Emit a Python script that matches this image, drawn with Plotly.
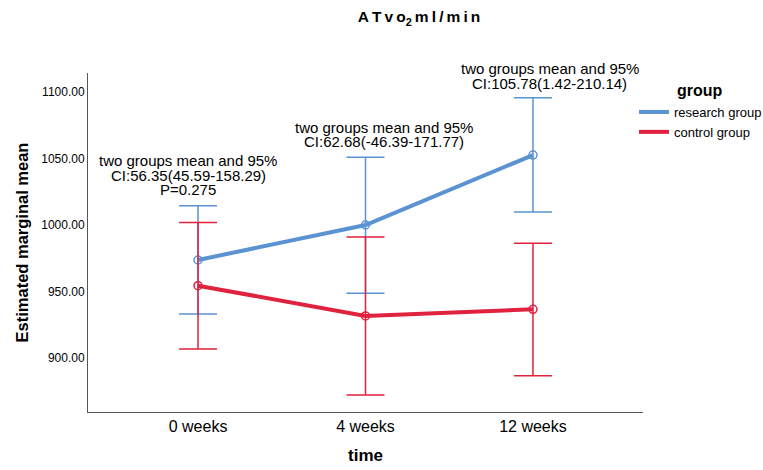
import plotly.graph_objects as go

times = ["0 weeks", "4 weeks", "12 weeks"]
research_mean = [973.7, 1000.0, 1052.6]
research_upper = [1014.5, 1050.9, 1095.7]
research_lower = [933.1, 948.6, 1009.8]
control_mean = [954.4, 931.6, 936.6]
control_upper = [1001.8, 991.0, 986.2]
control_lower = [906.8, 872.2, 886.7]

note_lines = [
    ["two groups mean and 95%", "CI:56.35(45.59-158.29)", "P=0.275"],
    ["two groups mean and 95%", "CI:62.68(-46.39-171.77)"],
    ["two groups mean and 95%", "CI:105.78(1.42-210.14)"],
]
note_anchor_y = [1048.5, 1073.5, 1110.0]   # data value anchors
note_xshift = [-10, 18, 17]                # px
note_yshift = [0, 0, 10]                   # px
LINE_GAP = 14.5

BLUE = "#5A92D2"
RED = "#E0223F"
FONT = "Liberation Sans, Arial, sans-serif"

fig = go.Figure()

def add_group(name, mean, upper, lower, color):
    xs = list(range(len(times)))
    fig.add_trace(go.Scatter(
        x=xs, y=mean, mode="markers", showlegend=False, hoverinfo="skip",
        marker=dict(symbol="circle-open", size=8, color=color, line=dict(width=1.5)),
        error_y=dict(type="data", symmetric=False,
                     array=[u - m for u, m in zip(upper, mean)],
                     arrayminus=[m - l for m, l in zip(mean, lower)],
                     color=color, thickness=1.5, width=19),
    ))
    fig.add_trace(go.Scatter(
        x=xs, y=mean, mode="lines", name=name,
        line=dict(color=color, width=4),
    ))

add_group("research group", research_mean, research_upper, research_lower, BLUE)
add_group("control group", control_mean, control_upper, control_lower, RED)

for i, lines in enumerate(note_lines):
    for k, t in enumerate(lines):
        fig.add_annotation(x=i, y=note_anchor_y[i], text=t, showarrow=False,
                           xanchor="center", yanchor="middle",
                           xshift=note_xshift[i], yshift=note_yshift[i] - k * LINE_GAP,
                           font=dict(size=15, color="black", family=FONT))

# legend title
fig.add_annotation(xref="paper", yref="paper", x=(700 - 88) / 555, y=(412 - 90) / 339,
                   text="<b>group</b>", showarrow=False, xanchor="center", yanchor="middle",
                   font=dict(size=16, color="black", family=FONT))

title_txt = "\u2009".join(list("ATvo")) + "<sub>2</sub>\u2009" + "\u2009".join(list("ml/min"))

fig.update_layout(
    width=763, height=470,
    margin=dict(l=88, r=120, t=73, b=58, autoexpand=False),
    paper_bgcolor="white", plot_bgcolor="white",
    font=dict(family=FONT, color="black"),
    title=dict(text="<b>" + title_txt + "</b>", x=419 / 763, xanchor="center",
               y=1 - 17 / 470, yanchor="middle", font=dict(size=15.5)),
    showlegend=True,
    legend=dict(xref="container", yref="container",
                x=634 / 763, xanchor="left", y=1 - 97 / 470, yanchor="top",
                font=dict(size=13), tracegroupgap=0, itemwidth=30,
                bgcolor="rgba(0,0,0,0)"),
    xaxis=dict(range=[-0.657, 2.657], tickmode="array",
               tickvals=list(range(len(times))), ticktext=times,
               showgrid=False, zeroline=False, showline=True, linecolor="#555",
               linewidth=1, ticks="", tickfont=dict(size=16),
               title=dict(text="<b>time</b>", font=dict(size=17), standoff=14)),
    yaxis=dict(range=[859.4, 1114.3], tickmode="array",
               tickvals=[900, 950, 1000, 1050, 1100],
               ticktext=["900.00", "950.00", "1000.00", "1050.00", "1100.00"],
               showgrid=False, zeroline=False, showline=True, linecolor="#555",
               linewidth=1, ticks="", tickfont=dict(size=12),
               title=dict(text="<b>Estimated marginal mean</b>", font=dict(size=16.5),
                          standoff=8)),
)

fig.write_html("out.html")
